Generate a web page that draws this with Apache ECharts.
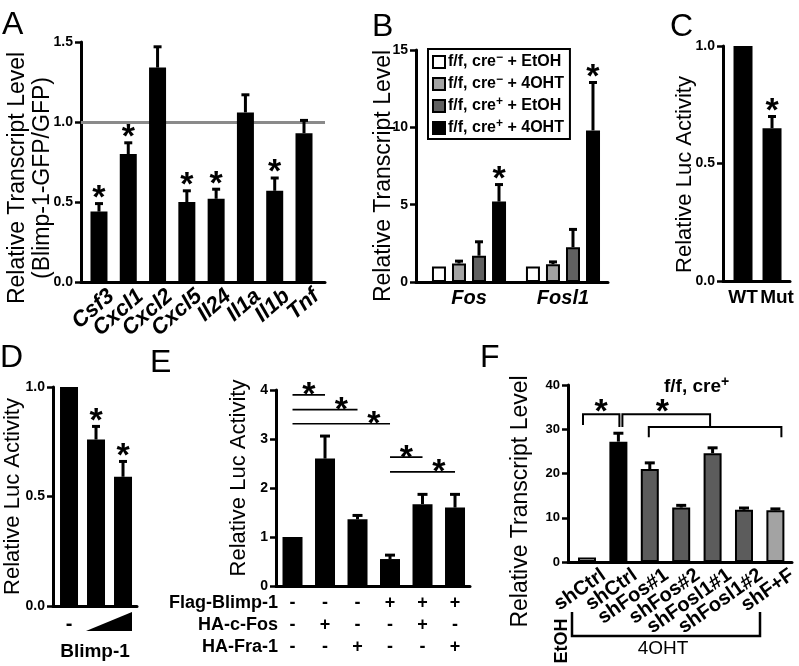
<!DOCTYPE html>
<html>
<head>
<meta charset="utf-8">
<script src="https://cdn.jsdelivr.net/npm/echarts@6.0.0/dist/echarts.min.js"></script>
<style>
html,body{margin:0;padding:0;background:#fff;}
#chart{width:799px;height:666px;}
</style>
</head>
<body>
<div id="chart"></div>
<script>
// ================= DATA =================
// Panel A
const aCategories = ['Csf3','Cxcl1','Cxcl2','Cxcl5','Il24','Il1a','Il1b','Tnf'];
const aValues = [0.44, 0.80, 1.34, 0.50, 0.52, 1.06, 0.57, 0.93];
const aErrTop = [0.49, 0.87, 1.47, 0.57, 0.58, 1.17, 0.65, 1.01];
const aStars  = [1, 1, 0, 1, 1, 0, 1, 0];
const aReference = 1.0;
const aTickLabels = ['0.0', '0.5', '1.0', '1.5'];

// Panel B
const bCategories = ['Fos', 'Fosl1'];
const bSeriesNames = ['f/f, cre- + EtOH', 'f/f, cre- + 4OHT', 'f/f, cre+ + EtOH', 'f/f, cre+ + 4OHT'];
const bValues = [[1.0, 1.0], [1.2, 1.15], [1.7, 2.25], [5.2, 9.8]];
const bErrTop = [[1.0, 1.0], [1.35, 1.3], [2.6, 3.4], [6.3, 12.9]];
const bStars  = [[0, 0], [0, 0], [0, 0], [1, 1]];
const bTickLabels = ['0', '5', '10', '15'];

// Panel C
const cCategories = ['WT', 'Mut'];
const cValues = [1.0, 0.65];
const cErrTop = [1.0, 0.70];
const cStars  = [0, 1];
const cTickLabels = ['0.0', '0.5', '1.0'];

// Panel D
const dCategories = ['-', '', ''];
const dValues = [1.0, 0.76, 0.59];
const dErrTop = [1.0, 0.82, 0.66];
const dStars  = [0, 1, 1];
const dAxisTitle = 'Blimp-1';
const dTickLabels = ['0.0', '0.5', '1.0'];

// Panel E
const eRowNames = ['Flag-Blimp-1', 'HA-c-Fos', 'HA-Fra-1'];
const eFlagBlimp = ['-', '-', '-', '+', '+', '+'];
const eHAcFos    = ['-', '+', '-', '-', '+', '-'];
const eHAFra1    = ['-', '-', '+', '-', '-', '+'];
const eValues = [1.0, 2.6, 1.36, 0.55, 1.67, 1.6];
const eErrTop = [1.0, 3.06, 1.44, 0.63, 1.87, 1.87];
const eComparisons = [[0, 1], [0, 2], [0, 3], [3, 4], [3, 5]];
const eTickLabels = ['0', '1', '2', '3', '4'];

// Panel F
const fCategories = ['shCtrl', 'shCtrl', 'shFos#1', 'shFos#2', 'shFosl1#1', 'shFosl1#2', 'shF+F'];
const fValues = [1.0, 27.2, 21.0, 12.3, 24.6, 11.8, 11.7];
const fErrTop = [1.0, 29.1, 22.4, 12.8, 25.8, 12.2, 12.0];
const fComparisons = [[0, [1]], [1, [2, 3, 4, 5, 6]]];
const fTitle = 'f/f, cre+';
const fTreatEtOH = 'EtOH';
const fTreat4OHT = '4OHT';
const fTickLabels = ['0', '10', '20', '30', '40'];

// ================= STYLE / LAYOUT =================
const FONT = '"Liberation Sans", Arial, Helvetica, sans-serif';
const BLACK = '#000';
const bColors = ['#ffffff', '#a3a3a3', '#606060', '#000000'];
const fColors = ['#ffffff', '#000000', '#5c5c5c', '#5c5c5c', '#5c5c5c', '#5c5c5c', '#a3a3a3'];
const eSigLevels = [3.9, 3.6, 3.31, 2.63, 2.33];

function supRich(name) {
  return name.replace(/cre([+-])/, (m, s) => 'cre{sup|' + (s === '-' ? '\u2212' : '+') + '}');
}

function starEl(x, y) {
  return {type: 'text', x: x, y: y, z2: 10,
    style: {text: '*', fill: BLACK, fontFamily: FONT, fontSize: 34, fontWeight: 'bold',
            align: 'center', verticalAlign: 'middle'}};
}

function errorBars(offsetPx, capHalf) {
  return function (params, api) {
    const x = api.value(0), v = api.value(1), e = api.value(2), star = api.value(3);
    const base = api.coord([x, v]);
    const top = api.coord([x, e]);
    const cx = base[0] + offsetPx;
    const kids = [];
    if (e > v) {
      kids.push({type: 'line', shape: {x1: cx, y1: base[1], x2: cx, y2: top[1]}, style: {stroke: BLACK, lineWidth: 3}});
      kids.push({type: 'line', shape: {x1: cx - capHalf, y1: top[1], x2: cx + capHalf, y2: top[1]}, style: {stroke: BLACK, lineWidth: 3}});
    }
    if (star) kids.push(starEl(cx, top[1] - 5));
    return {type: 'group', children: kids};
  };
}

function errSeries(gi, vals, errs, stars, offsetPx, capHalf) {
  return {
    type: 'custom', xAxisIndex: gi, yAxisIndex: gi, z: 6, clip: false, silent: true,
    encode: {x: 0, y: 1},
    data: vals.map((v, i) => [i, v, errs[i], stars[i]]),
    renderItem: errorBars(offsetPx, capHalf)
  };
}

// category labels drawn through the axis scale (avoids automatic overlap hiding)
function catLabelSeries(gi, cats, opt) {
  return {
    type: 'custom', xAxisIndex: gi, yAxisIndex: gi, z: 6, clip: false, silent: true,
    encode: {x: 0, y: 1},
    data: cats.map((c, i) => [i, 0]),
    renderItem: (params, api) => {
      const p = api.coord([api.value(0), 0]);
      const dx = opt.dx + (opt.step || 0) * params.dataIndex;
      return {type: 'text', x: p[0] + dx, y: p[1] + opt.dy, rotation: (opt.rot || 0) * Math.PI / 180,
        style: {text: cats[params.dataIndex], fill: BLACK, fontFamily: FONT, fontWeight: 'bold',
          fontStyle: opt.italic ? 'italic' : 'normal', fontSize: opt.size,
          align: opt.align || 'center', verticalAlign: 'top'}};
    }
  };
}

function yAxis(gi, max, interval, ticks, name, opt) {
  return {
    type: 'value', gridIndex: gi, min: 0, max: max, interval: interval,
    axisLine: {show: true, onZero: false, lineStyle: {color: BLACK, width: 3}},
    axisTick: {show: true, length: 6, lineStyle: {color: BLACK, width: 2.5}},
    splitLine: {show: false},
    axisLabel: {color: BLACK, fontFamily: FONT, fontWeight: 'bold', fontSize: opt.tickSize || 14, margin: 8,
      formatter: v => ticks[Math.round(v / interval)]},
    name: name, nameLocation: 'middle', nameGap: opt.gap, nameRotate: 90, nameMoveOverlap: false,
    nameTextStyle: {color: BLACK, fontFamily: FONT, fontSize: opt.size, lineHeight: opt.lh || opt.size + 2,
      padding: opt.shift > 0 ? [0, 2 * opt.shift, 0, 0] : [0, 0, 0, -2 * (opt.shift || 0)]}
  };
}

function xAxis(gi, min, max, cats, label, extra) {
  return Object.assign({
    type: 'value', gridIndex: gi, min: min, max: max,
    axisLine: {show: true, onZero: false, lineStyle: {color: BLACK, width: 3}},
    axisTick: {show: false}, splitLine: {show: false},
    axisLabel: Object.assign({
      show: true, customValues: cats.map((_, i) => i), hideOverlap: false, interval: 0,
      showMinLabel: true, showMaxLabel: true,
      formatter: v => { const s = cats[Math.round(v)]; return s === undefined ? '' : s; },
      color: BLACK, fontFamily: FONT, fontWeight: 'bold', fontSize: 17, margin: 6
    }, label)
  }, extra || {});
}

const grids = [
  {left: 81,  top: 42,  width: 244, height: 240},  // A
  {left: 416, top: 50,  width: 192, height: 232},  // B
  {left: 723, top: 46,  width: 67,  height: 235},  // C
  {left: 53,  top: 387, width: 84,  height: 219},  // D
  {left: 276, top: 390, width: 194, height: 196},  // E
  {left: 568, top: 385, width: 224, height: 177}   // F
].map(g => Object.assign({containLabel: false, outerBoundsMode: 'none'}, g));

const xAxes = [
  xAxis(0, -0.614, 7.717, aCategories, {show: false}),
  xAxis(1, -0.564, 1.479, bCategories, {fontStyle: 'italic', fontSize: 20, margin: 6}),
  xAxis(2, -0.69, 1.62, cCategories, {show: false}),
  xAxis(3, -0.593, 2.518, dCategories, {fontSize: 20, margin: 8},
        {name: dAxisTitle, nameLocation: 'middle', nameGap: 36,
         nameTextStyle: {color: BLACK, fontFamily: FONT, fontWeight: 'bold', fontSize: 19}}),
  xAxis(4, -0.508, 5.461, eFlagBlimp, {fontSize: 18, lineHeight: 22, margin: 6,
        formatter: v => { const i = Math.round(v); return [eFlagBlimp[i], eHAcFos[i], eHAFra1[i]].join('\n'); }}),
  xAxis(5, -0.605, 6.529, fCategories, {show: false})
];

const yAxes = [
  yAxis(0, 1.5, 0.5, aTickLabels, 'Relative Transcript Level\n(Blimp-1-GFP/GFP)', {gap: 26, size: 23, lh: 25, shift: 16}),
  yAxis(1, 15, 5, bTickLabels, 'Relative Transcript Level', {gap: 20, size: 23, shift: 10}),
  yAxis(2, 1.0, 0.5, cTickLabels, 'Relative Luc Activity', {gap: 26, size: 22, shift: 11}),
  yAxis(3, 1.0, 0.5, dTickLabels, 'Relative Luc Activity', {gap: 28, size: 22, shift: 0}),
  yAxis(4, 4, 1, eTickLabels, 'Relative Luc Activity', {gap: 25, size: 22, shift: -10}),
  yAxis(5, 40, 10, fTickLabels, 'Relative Transcript Level', {gap: 35, size: 23, shift: 28, tickSize: 13})
];

const series = [];

// ---- A
series.push({
  type: 'bar', xAxisIndex: 0, yAxisIndex: 0, z: 3, barWidth: 17,
  itemStyle: {color: BLACK},
  data: aValues.map((v, i) => [i, v]),
  markLine: {z: 1, silent: true, symbol: 'none', label: {show: false},
    lineStyle: {color: '#8a8a8a', width: 3, type: 'solid'}, data: [{yAxis: aReference}]}
});
series.push(errSeries(0, aValues, aErrTop, aStars, 0, 4));
series.push(catLabelSeries(0, aCategories, {dx: 5, dy: 3, rot: 41, size: 22, italic: true, align: 'right'}));

// ---- B
bSeriesNames.forEach((nm, si) => {
  series.push({
    name: nm, type: 'bar', xAxisIndex: 1, yAxisIndex: 1, z: 3, barWidth: 14, barGap: '43%',
    itemStyle: {color: bColors[si], borderColor: BLACK, borderWidth: 2},
    data: bValues[si].map((v, i) => [i, v])
  });
});
bSeriesNames.forEach((nm, si) => {
  series.push(errSeries(1, bValues[si], bErrTop[si], bStars[si], (si - 1.5) * 20, 4));
});

// ---- C
series.push({type: 'bar', xAxisIndex: 2, yAxisIndex: 2, z: 3, barWidth: 19, itemStyle: {color: BLACK},
  data: cValues.map((v, i) => [i, v])});
series.push(errSeries(2, cValues, cErrTop, cStars, 0, 4));
series.push(catLabelSeries(2, cCategories, {dx: 0, step: 5, dy: 7, size: 19}));

// ---- D
series.push({type: 'bar', xAxisIndex: 3, yAxisIndex: 3, z: 3, barWidth: 18, itemStyle: {color: BLACK},
  data: dValues.map((v, i) => [i, v])});
series.push(errSeries(3, dValues, dErrTop, dStars, 0, 4));
// dose wedge under bars 2-3
series.push({
  type: 'custom', xAxisIndex: 3, yAxisIndex: 3, clip: false, silent: true, z: 6,
  data: [[1, 2]],
  renderItem: (params, api) => {
    const a = api.coord([api.value(0), 0]);
    const b = api.coord([api.value(1), 0]);
    return {type: 'polygon', shape: {points: [[a[0] - 10, a[1] + 25], [b[0] + 9, a[1] + 25], [b[0] + 9, a[1] + 6]]},
      style: {fill: BLACK}};
  }
});

// ---- E
series.push({type: 'bar', xAxisIndex: 4, yAxisIndex: 4, z: 3, barWidth: 20, itemStyle: {color: BLACK},
  data: eValues.map((v, i) => [i, v])});
series.push(errSeries(4, eValues, eErrTop, eValues.map(() => 0), 0, 5));
series.push({
  type: 'custom', xAxisIndex: 4, yAxisIndex: 4, clip: false, silent: true, z: 6,
  data: eComparisons.map((p, k) => [p[0], p[1], eSigLevels[k]]),
  renderItem: (params, api) => {
    const a = api.coord([api.value(0), api.value(2)]);
    const b = api.coord([api.value(1), api.value(2)]);
    const m = api.coord([api.value(1) - 0.5, api.value(2)]);
    return {type: 'group', children: [
      {type: 'line', shape: {x1: a[0], y1: a[1], x2: b[0], y2: b[1]}, style: {stroke: BLACK, lineWidth: 1.6}},
      starEl(m[0], a[1] + 1)
    ]};
  }
});

// ---- F
series.push({type: 'bar', xAxisIndex: 5, yAxisIndex: 5, z: 3, barWidth: 18,
  itemStyle: {borderColor: BLACK, borderWidth: 2},
  data: fValues.map((v, i) => ({value: [i, v], itemStyle: {color: fColors[i]}}))});
series.push(errSeries(5, fValues, fErrTop, fValues.map(() => 0), 0, 5));
series.push(catLabelSeries(5, fCategories, {dx: 11, dy: 3, rot: 35, size: 20, align: 'right'}));
series.push({
  type: 'custom', xAxisIndex: 5, yAxisIndex: 5, clip: false, silent: true, z: 6,
  data: fComparisons.map(c => [c[0], c[1][0], c[1][c[1].length - 1], c[1].length]),
  renderItem: (params, api) => {
    const ref = api.value(0), t0 = api.value(1), t1 = api.value(2), n = api.value(3);
    const st = {stroke: BLACK, lineWidth: 2, fill: null};
    const hi = api.coord([0, 33.4])[1], mid = api.coord([0, 30.5])[1], lo = api.coord([0, 28.2])[1];
    const kids = [];
    if (n === 1) {
      const x1 = api.coord([ref, 0])[0] - 4, x2 = api.coord([t0, 0])[0] + 1;
      kids.push({type: 'polyline', shape: {points: [[x1, mid - 2], [x1, hi], [x2, hi], [x2, mid]]}, style: st});
      kids.push(starEl((x1 + x2) / 2, hi - 2));
    } else {
      const xa = api.coord([t0, 0])[0] - 1, xb = api.coord([t1, 0])[0] + 6;
      const xm = (xa + xb) / 2 - 5;
      const x1 = api.coord([ref, 0])[0] + 4;
      kids.push({type: 'polyline', shape: {points: [[xa, lo], [xa, mid], [xb, mid], [xb, lo]]}, style: st});
      kids.push({type: 'polyline', shape: {points: [[x1, mid], [x1, hi], [xm, hi], [xm, mid]]}, style: st});
      kids.push(starEl((x1 + xm) / 2 - 4, hi - 2));
    }
    return {type: 'group', children: kids};
  }
});

// ================= GRAPHICS (labels) =================
function txt(t, x, y, size, extra) {
  return {type: 'text', x: x, y: y, silent: true,
    style: Object.assign({text: t, fill: BLACK, fontFamily: FONT, fontSize: size,
      align: 'left', verticalAlign: 'middle'}, extra || {})};
}
const graphics = [
  txt('A', 2, 25, 32), txt('B', 372, 27, 32), txt('C', 670, 27, 32),
  txt('D', 0, 358, 32), txt('E', 150, 363, 32), txt('F', 480, 358, 32)
];
eRowNames.forEach((t, k) => graphics.push(txt(t, 278, 603 + k * 22, 18, {align: 'right', fontWeight: 'bold'})));
graphics.push(Object.assign(txt(fTreatEtOH, 562, 641, 18, {align: 'center', fontWeight: 'bold'}), {rotation: Math.PI / 2}));
graphics.push({type: 'polyline', silent: true, shape: {points: [[572, 612], [572, 636], [760, 636], [760, 612]]},
  style: {stroke: BLACK, lineWidth: 2.5, fill: null}});
graphics.push(txt(fTreat4OHT, 663, 649, 19, {align: 'center'}));

const option = {
  animation: false,
  backgroundColor: '#fff',
  title: [{
    text: supRich(fTitle), left: 659, top: 370,
    textStyle: {color: BLACK, fontFamily: FONT, fontSize: 19, fontWeight: 'bold',
      rich: {sup: {fontSize: 14, fontWeight: 'bold', fontFamily: FONT, color: BLACK, padding: [0, 0, 10, 0]}}}
  }],
  legend: {
    data: bSeriesNames, left: 428, top: 49, orient: 'vertical', selectedMode: false,
    backgroundColor: '#fff', borderColor: BLACK, borderWidth: 2, borderRadius: 0,
    padding: [3, 6, 3, 4], itemGap: 4, itemWidth: 12, itemHeight: 12, icon: 'rect',
    itemStyle: {borderColor: BLACK, borderWidth: 2},
    formatter: name => supRich(name),
    textStyle: {color: BLACK, fontFamily: FONT, fontSize: 16, fontWeight: 'bold', lineHeight: 16, padding: [0, 0, 0, -2],
      rich: {sup: {fontSize: 12, fontWeight: 'bold', fontFamily: FONT, color: BLACK, padding: [0, 0, 8, 0]}}}
  },
  grid: grids,
  xAxis: xAxes,
  yAxis: yAxes,
  series: series,
  graphic: graphics
};

const chart = echarts.init(document.getElementById('chart'), null, {renderer: 'canvas'});
chart.setOption(option);
</script>
</body>
</html>
